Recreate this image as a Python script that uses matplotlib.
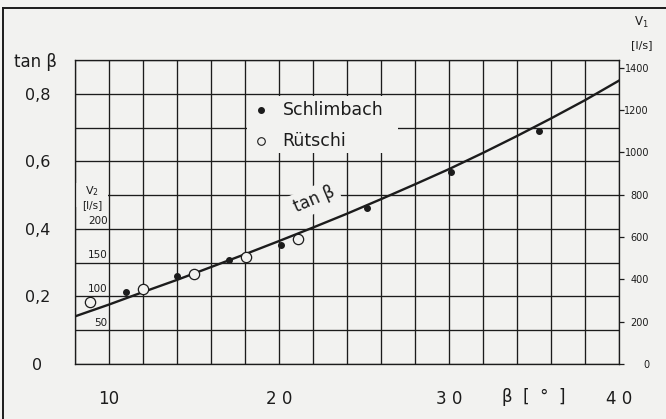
import matplotlib
matplotlib.use("Agg")
import matplotlib.pyplot as plt
from matplotlib.lines import Line2D
from matplotlib.patches import Rectangle
import numpy as np

# curve tan(beta)
beta_curve = [8, 10, 12, 14, 16, 18, 20, 22, 24, 26, 28, 30, 32, 34, 36, 38, 40]
tan_curve = [0.141, 0.176, 0.213, 0.249, 0.287, 0.325, 0.364, 0.404, 0.445, 0.488,
             0.532, 0.577, 0.625, 0.675, 0.727, 0.781, 0.839]

# measured points
schlimbach_beta = [11.0, 14.0, 17.05, 20.1, 25.2, 30.1, 35.3]
schlimbach_tan = [0.213, 0.261, 0.308, 0.352, 0.461, 0.569, 0.690]
rutschi_beta = [8.9, 12.0, 15.0, 18.05, 21.1]
rutschi_tan = [0.183, 0.223, 0.266, 0.317, 0.370]

# axis ticks / labels
x_ticks = [10, 20, 30, 40]
x_labels = ["10", "2 0", "3 0", "4 0"]
tan_ticks = [0, 0.2, 0.4, 0.6, 0.8]
tan_labels = ["0", "0,2", "0,4", "0,6", "0,8"]
v1_ticks = [0, 200, 400, 600, 800, 1000, 1200, 1400]
v2_ticks = [50, 100, 150, 200]
v2_tan = [0.1, 0.2, 0.3, 0.4]

BG = "#f2f2f0"
INK = "#1c1c1c"
W, H = 666, 419

fig = plt.figure(figsize=(W / 100, H / 100), dpi=100, facecolor=BG)
ax = fig.add_axes([75 / W, 1 - 364 / H, (619 - 75) / W, (364 - 60) / H])
ax.set_facecolor(BG)
ax.set_xlim(8, 40)
ax.set_ylim(0, 0.9)

# grid every 2 deg / 0.1
ax.set_xticks(x_ticks)
ax.set_xticklabels(x_labels, fontsize=12, color=INK)
ax.set_xticks(np.arange(8, 41, 2), minor=True)
ax.set_yticks(tan_ticks)
ax.set_yticklabels(tan_labels, fontsize=11.5, color=INK)
ax.set_yticks(np.arange(0, 0.91, 0.1), minor=True)
ax.grid(which="both", color=INK, linewidth=0.95, zorder=0)
ax.set_axisbelow(True)
ax.tick_params(which="both", length=0)
ax.tick_params(axis="x", pad=19)
ax.tick_params(axis="y", pad=27)
for lab in ax.get_yticklabels():
    lab.set_horizontalalignment("center")
for sp in ax.spines.values():
    sp.set_color(INK)
    sp.set_linewidth(0.95)

# right axis V1
ax2 = ax.twinx()
ax2.set_ylim(0, 1437)
ax2.set_yticks(v1_ticks)
ax2.set_yticklabels([str(v) for v in v1_ticks], fontsize=7, color=INK)
ax2.tick_params(axis="y", length=3.6, width=0.9, color=INK, pad=18)
for lab in ax2.get_yticklabels():
    lab.set_horizontalalignment("right")
for sp in ax2.spines.values():
    sp.set_visible(False)

# white-outs behind labels
ax.add_patch(Rectangle((18.1, 0.624), 8.9, 0.17, facecolor=BG, edgecolor="none", zorder=1))
ax.add_patch(Rectangle((8.08, 0.465), 1.85, 0.07, facecolor=BG, edgecolor="none", zorder=1))

# curve and points
ax.plot(beta_curve, tan_curve, color=INK, linewidth=1.7, zorder=3)
ax.scatter(schlimbach_beta, schlimbach_tan, s=16, color=INK, zorder=4)
ax.scatter(rutschi_beta, rutschi_tan, s=55, facecolor=BG, edgecolor=INK, linewidth=0.9, zorder=4)

# legend
ax.scatter([18.95], [0.751], s=16, color=INK, zorder=4)
ax.scatter([18.95], [0.660], s=30, facecolor=BG, edgecolor=INK, linewidth=0.8, zorder=4)
ax.text(20.2, 0.751, "Schlimbach", fontsize=12.5, color=INK, va="center", ha="left", zorder=2)
ax.text(20.2, 0.660, "Rütschi", fontsize=12.5, color=INK, va="center", ha="left", zorder=2)

# curve label
ax.text(22.1, 0.487, "tan β", fontsize=12, color=INK, rotation=23, ha="center", va="center",
        zorder=2, bbox=dict(facecolor=BG, edgecolor="none", pad=3))

# V2 scale inside first column
ax.text(9.0, 0.513, r"V$_2$", fontsize=8, color=INK, ha="center", va="center", zorder=2)
ax.text(9.0, 0.470, "[l/s]", fontsize=7.5, color=INK, ha="center", va="center", zorder=2)
for v, t in zip(v2_ticks, v2_tan):
    ax.text(9.92, t + 0.008, str(v), fontsize=7.5, color=INK, ha="right", va="bottom", zorder=2)

# axis titles
fig.text(36 / W, 1 - 62 / H, "tan β", fontsize=12, color=INK, ha="center", va="center")
fig.text(641 / W, 1 - 22 / H, r"V$_1$", fontsize=8.5, color=INK, ha="center", va="center")
fig.text(642 / W, 1 - 45 / H, "[l/s]", fontsize=8, color=INK, ha="center", va="center")
ax.text(35.0, -0.108, "β  [  °  ]", fontsize=12, color=INK, ha="center", va="center",
        transform=ax.get_xaxis_transform())

# outer frame of the scan
fig.add_artist(Line2D([3 / W, 3 / W], [0, 1 - 8 / H], transform=fig.transFigure,
                      color=INK, linewidth=1.4))
fig.add_artist(Line2D([3 / W, 1], [1 - 8 / H, 1 - 8 / H], transform=fig.transFigure,
                      color=INK, linewidth=1.4))

fig.savefig("out.png", dpi=100, facecolor=BG)
